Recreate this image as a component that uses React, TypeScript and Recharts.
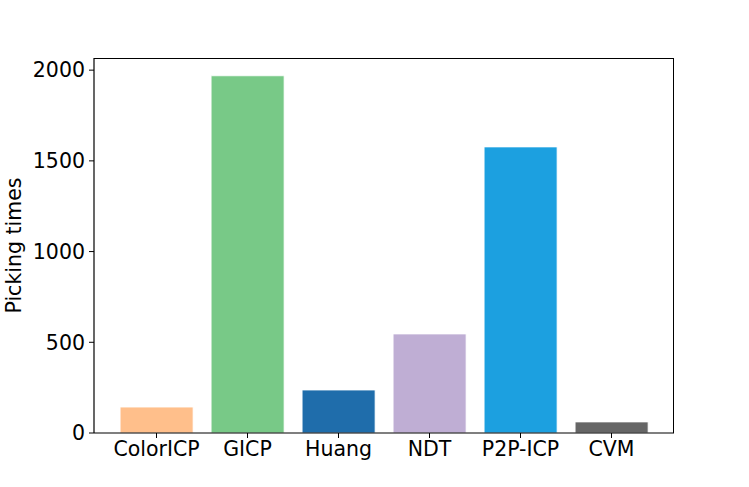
import React from "react";
import { BarChart, Bar, XAxis, YAxis, Cell } from "recharts";

const categories = ["ColorICP", "GICP", "Huang", "NDT", "P2P-ICP", "CVM"];
const values = [143, 1969, 237, 546, 1577, 61];
const colors = ["#ffbf8b", "#78c987", "#1f6dab", "#bfaed4", "#1ca0e0", "#666666"];
const yTicks = [0, 500, 1000, 1500, 2000];

const data = categories.map((name, i) => ({ name, value: values[i] }));

const font = "'DejaVu Sans', sans-serif";
const fs = 20.5;

export default function App() {
  return (
    <div style={{ position: "absolute", left: 0, top: 0, width: 749, height: 487, background: "#fff" }}>
      <BarChart
        width={749}
        height={487}
        data={data}
        margin={{ top: 58, right: 75, bottom: 0, left: 0 }}
        barCategoryGap="10%"
      >
        <XAxis
          dataKey="name"
          height={54}
          padding={{ left: 17, right: 17 }}
          axisLine={{ stroke: "#000", strokeWidth: 1.2 }}
          tickLine={{ stroke: "#000" }}
          tickSize={5}
          tick={{ fill: "#000", fontSize: fs, fontFamily: font }}
          tickMargin={3}
          interval={0}
        />
        <YAxis
          width={94}
          domain={[0, 2067]}
          ticks={yTicks}
          axisLine={{ stroke: "#000", strokeWidth: 1.2 }}
          tickLine={{ stroke: "#000" }}
          tickSize={5}
          tick={{ fill: "#000", fontSize: fs, fontFamily: font }}
          tickMargin={4}
          label={{
            value: "Picking times",
            angle: -90,
            position: "insideLeft",
            offset: 14,
            style: { fill: "#000", fontSize: fs, fontFamily: font, textAnchor: "middle" },
          }}
        />
        <Bar dataKey="value" isAnimationActive={false} stroke="#ffffff" strokeWidth={0.8}>
          {data.map((d, i) => (
            <Cell key={d.name} fill={colors[i]} />
          ))}
        </Bar>
      </BarChart>
      <div
        style={{
          position: "absolute",
          left: 94,
          top: 58,
          width: 580,
          height: 375,
          boxSizing: "border-box",
          borderTop: "1.2px solid #000",
          borderRight: "1.2px solid #000",
          pointerEvents: "none",
        }}
      />
    </div>
  );
}
